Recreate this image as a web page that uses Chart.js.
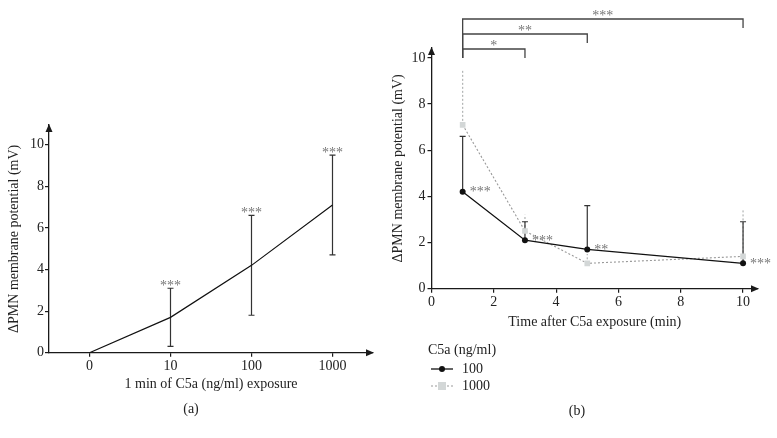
<!DOCTYPE html>
<html lang="en">
<head>
    <meta charset="UTF-8">
    <title>PMN membrane potential after C5a</title>
    <script src="https://cdn.jsdelivr.net/npm/chart.js"></script>
    <style>
        body { margin: 0; background: #fff; }
        #wrap { position: relative; width: 777px; height: 438px; }
        .panel { position: absolute; top: 0; }
    </style>
</head>
<body>
<div id="wrap">
    <div class="panel" style="left:0"><canvas id="chartA" width="388" height="438"></canvas></div>
    <div class="panel" style="left:388px"><canvas id="chartB" width="389" height="438"></canvas></div>
</div>

<script>
// panel (a): 1 min exposure, different doses
const doseLabels = ['0', '10', '100', '1000'];
const doseMean = [0, 1.7, 4.2, 7.1];
const doseLow = [null, 0.3, 1.8, 4.7];
const doseHigh = [null, 3.1, 6.6, 9.5];
const doseStars = ['', '***', '***', '***'];

// panel (b): time course
const timeMin = [1, 3, 5, 10];
const mean100 = [4.2, 2.1, 1.7, 1.1];
const high100 = [6.6, 2.9, 3.6, 2.9];
const stars100 = ['***', '***', '**', '***'];
const mean1000 = [7.1, 2.5, 1.1, 1.4];
const high1000 = [9.5, 3.2, 1.5, 3.4];

const yTicks = [0, 2, 4, 6, 8, 10];
const timeTicks = [0, 2, 4, 6, 8, 10];

// significance brackets above panel (b)
const bracketFrom = [1, 1, 1];
const bracketTo = [3, 5, 10];
const bracketStars = ['*', '**', '***'];

const SERIF = "'Liberation Serif', 'DejaVu Serif', serif";
const FS = 14;
const AXIS = '#1a1a1a';
const STAR = '#777';

function toPts(xs, ys) {
    return xs.map((x, i) => ({x: x, y: ys[i]}));
}

function arrow(ctx, x, y, dir) {
    ctx.save();
    ctx.fillStyle = AXIS;
    ctx.beginPath();
    if (dir === 'up') {
        ctx.moveTo(x, y - 1);
        ctx.lineTo(x - 3.5, y + 7);
        ctx.lineTo(x + 3.5, y + 7);
    } else {
        ctx.moveTo(x + 1, y);
        ctx.lineTo(x - 7, y - 3.5);
        ctx.lineTo(x - 7, y + 3.5);
    }
    ctx.closePath();
    ctx.fill();
    ctx.restore();
}

const axisArrows = {
    id: 'axisArrows',
    afterDraw(chart) {
        const a = chart.chartArea;
        arrow(chart.ctx, a.left, a.top, 'up');
        arrow(chart.ctx, a.right, a.bottom, 'right');
    }
};

function axisOpts(extra) {
    return Object.assign({
        type: 'linear',
        border: { display: true, color: AXIS, width: 1.3 },
        grid: { drawOnChartArea: false, drawTicks: true, tickLength: 4, color: AXIS, lineWidth: 1.2 },
        ticks: { color: '#222', font: { family: SERIF, size: FS } }
    }, extra);
}

// ---------- panel (a) ----------
const errA = {
    id: 'errA',
    beforeDatasetsDraw(chart) {
        const ctx = chart.ctx, xs = chart.scales.x, ys = chart.scales.y;
        ctx.save();
        ctx.strokeStyle = '#333';
        ctx.lineWidth = 1.2;
        ctx.fillStyle = STAR;
        ctx.font = FS + 'px ' + SERIF;
        ctx.textAlign = 'center';
        ctx.textBaseline = 'alphabetic';
        doseMean.forEach((m, i) => {
            if (doseHigh[i] == null) return;
            const px = xs.getPixelForValue(i);
            const lo = ys.getPixelForValue(doseLow[i]);
            const hi = ys.getPixelForValue(doseHigh[i]);
            ctx.beginPath();
            ctx.moveTo(px, lo); ctx.lineTo(px, hi);
            ctx.moveTo(px - 3, lo); ctx.lineTo(px + 3, lo);
            ctx.moveTo(px - 3, hi); ctx.lineTo(px + 3, hi);
            ctx.stroke();
            ctx.fillText(doseStars[i], px, hi + 2);
        });
        ctx.restore();
    }
};

new Chart(document.getElementById('chartA'), {
    type: 'line',
    data: {
        datasets: [{
            data: toPts(doseLabels.map((_, i) => i), doseMean),
            borderColor: '#111',
            borderWidth: 1.2,
            pointRadius: 0,
            fill: false
        }]
    },
    options: {
        responsive: false,
        animation: false,
        layout: { padding: { left: 0, right: 15, top: 125, bottom: 0 } },
        plugins: { legend: { display: false }, tooltip: { enabled: false } },
        scales: {
            x: axisOpts({
                min: -0.5, max: 3.5,
                afterFit(s) { s.height = 85.3; },
                afterBuildTicks(s) { s.ticks = doseLabels.map((_, i) => ({value: i})); },
                ticks: { color: '#222', font: { family: SERIF, size: FS }, padding: 1,
                    callback: v => doseLabels[v] },
                title: { display: true, text: '1 min of C5a (ng/ml) exposure', color: '#222',
                    font: { family: SERIF, size: FS }, padding: { top: 0, bottom: 45 } }
            }),
            y: axisOpts({
                min: 0, max: 10.95,
                afterFit(s) { s.width = 49; },
                afterBuildTicks(s) { s.ticks = yTicks.map(v => ({value: v})); },
                ticks: { color: '#222', font: { family: SERIF, size: FS }, padding: 1 },
                title: { display: true, text: 'ΔPMN membrane potential (mV)', color: '#222',
                    font: { family: SERIF, size: FS }, padding: { top: 6, bottom: 0 } }
            })
        }
    },
    plugins: [errA, axisArrows, {
        id: 'panelA',
        afterDraw(chart) {
            const ctx = chart.ctx;
            ctx.save();
            ctx.fillStyle = '#222';
            ctx.font = FS + 'px ' + SERIF;
            ctx.textAlign = 'center';
            ctx.textBaseline = 'middle';
            ctx.fillText('(a)', 191, 409);
            ctx.restore();
        }
    }]
});

// ---------- panel (b) ----------
const errB = {
    id: 'errB',
    beforeDatasetsDraw(chart) {
        const ctx = chart.ctx, xs = chart.scales.x, ys = chart.scales.y;
        ctx.save();
        // 1000 ng/ml: dotted, no cap
        ctx.strokeStyle = '#b0b3b3';
        ctx.lineWidth = 1.2;
        ctx.setLineDash([2, 2]);
        timeMin.forEach((t, i) => {
            const px = xs.getPixelForValue(t);
            ctx.beginPath();
            ctx.moveTo(px, ys.getPixelForValue(mean1000[i]));
            ctx.lineTo(px, ys.getPixelForValue(high1000[i]));
            ctx.stroke();
        });
        // 100 ng/ml: solid with cap
        ctx.setLineDash([]);
        ctx.strokeStyle = '#333';
        timeMin.forEach((t, i) => {
            const px = xs.getPixelForValue(t);
            const hi = ys.getPixelForValue(high100[i]);
            ctx.beginPath();
            ctx.moveTo(px, ys.getPixelForValue(mean100[i]));
            ctx.lineTo(px, hi);
            ctx.moveTo(px - 3, hi); ctx.lineTo(px + 3, hi);
            ctx.stroke();
        });
        ctx.restore();
    },
    afterDatasetsDraw(chart) {
        const ctx = chart.ctx, xs = chart.scales.x, ys = chart.scales.y;
        ctx.save();
        ctx.fillStyle = STAR;
        ctx.font = FS + 'px ' + SERIF;
        ctx.textAlign = 'left';
        ctx.textBaseline = 'middle';
        timeMin.forEach((t, i) => {
            ctx.fillText(stars100[i], xs.getPixelForValue(t) + 7, ys.getPixelForValue(mean100[i]) + 1);
        });
        ctx.restore();
    }
};

const bracketsB = {
    id: 'bracketsB',
    afterDraw(chart) {
        const ctx = chart.ctx, xs = chart.scales.x;
        const levels = [49, 34, 19];
        const bottom = levels[0] + 9;
        ctx.save();
        ctx.strokeStyle = '#444';
        ctx.lineWidth = 1.3;
        ctx.fillStyle = STAR;
        ctx.font = FS + 'px ' + SERIF;
        ctx.textAlign = 'center';
        ctx.textBaseline = 'alphabetic';
        bracketFrom.forEach((f, i) => {
            const x1 = xs.getPixelForValue(f), x2 = xs.getPixelForValue(bracketTo[i]);
            const y = levels[i];
            ctx.beginPath();
            ctx.moveTo(x1, bottom);
            ctx.lineTo(x1, y);
            ctx.lineTo(x2, y);
            ctx.lineTo(x2, y + 9);
            ctx.stroke();
            ctx.fillText(bracketStars[i], (x1 + x2) / 2, y + 0.5);
        });
        ctx.restore();
    }
};

const legendB = {
    id: 'legendB',
    afterDraw(chart) {
        const ctx = chart.ctx;
        const sets = chart.data.datasets;
        ctx.save();
        ctx.fillStyle = '#222';
        ctx.font = FS + 'px ' + SERIF;
        ctx.textAlign = 'left';
        ctx.textBaseline = 'middle';
        ctx.fillText('C5a (ng/ml)', 40, 350);
        [369, 386].forEach((y, i) => {
            const ds = sets[i];
            ctx.save();
            ctx.strokeStyle = ds.borderColor;
            ctx.lineWidth = ds.borderWidth;
            ctx.setLineDash(ds.borderDash || []);
            ctx.beginPath();
            ctx.moveTo(43, y); ctx.lineTo(65, y);
            ctx.stroke();
            ctx.setLineDash([]);
            ctx.fillStyle = ds.pointBackgroundColor;
            if (ds.pointStyle === 'rect') {
                ctx.fillRect(54 - ds.pointRadius, y - ds.pointRadius, ds.pointRadius * 2, ds.pointRadius * 2);
            } else {
                ctx.beginPath();
                ctx.arc(54, y, ds.pointRadius, 0, Math.PI * 2);
                ctx.fill();
            }
            ctx.restore();
            ctx.fillText(ds.label, 74, y);
        });
        ctx.textAlign = 'center';
        ctx.fillText('(b)', 189, 411);
        ctx.restore();
    }
};

new Chart(document.getElementById('chartB'), {
    type: 'line',
    data: {
        datasets: [{
            label: '100',
            data: toPts(timeMin, mean100),
            borderColor: '#111',
            borderWidth: 1.3,
            pointStyle: 'circle',
            pointRadius: 3,
            pointBackgroundColor: '#111',
            pointBorderColor: '#111',
            pointBorderWidth: 0,
            fill: false
        }, {
            label: '1000',
            data: toPts(timeMin, mean1000),
            borderColor: '#999',
            borderWidth: 1.1,
            borderDash: [2, 2],
            pointStyle: 'rect',
            pointRadius: 4,
            pointBackgroundColor: '#d3d7d7',
            pointBorderColor: '#d3d7d7',
            pointBorderWidth: 0,
            fill: false
        }]
    },
    options: {
        responsive: false,
        animation: false,
        layout: { padding: { left: 0, right: 19, top: 48, bottom: 0 } },
        plugins: { legend: { display: false }, tooltip: { enabled: false } },
        scales: {
            x: axisOpts({
                min: 0, max: 10.48,
                afterFit(s) { s.height = 149.3; },
                afterBuildTicks(s) { s.ticks = timeTicks.map(v => ({value: v})); },
                ticks: { color: '#222', font: { family: SERIF, size: FS }, padding: 1 },
                title: { display: true, text: 'Time after C5a exposure (min)', color: '#222',
                    font: { family: SERIF, size: FS }, padding: { top: 0, bottom: 107 } }
            }),
            y: axisOpts({
                min: 0, max: 10.43,
                afterFit(s) { s.width = 43.5; },
                afterBuildTicks(s) { s.ticks = yTicks.map(v => ({value: v})); },
                ticks: { color: '#222', font: { family: SERIF, size: FS }, padding: 2 },
                title: { display: true, text: 'ΔPMN membrane potential (mV)', color: '#222',
                    font: { family: SERIF, size: FS }, padding: { top: 1.5, bottom: 0 } }
            })
        }
    },
    plugins: [errB, bracketsB, legendB, axisArrows]
});
</script>
</body>
</html>
